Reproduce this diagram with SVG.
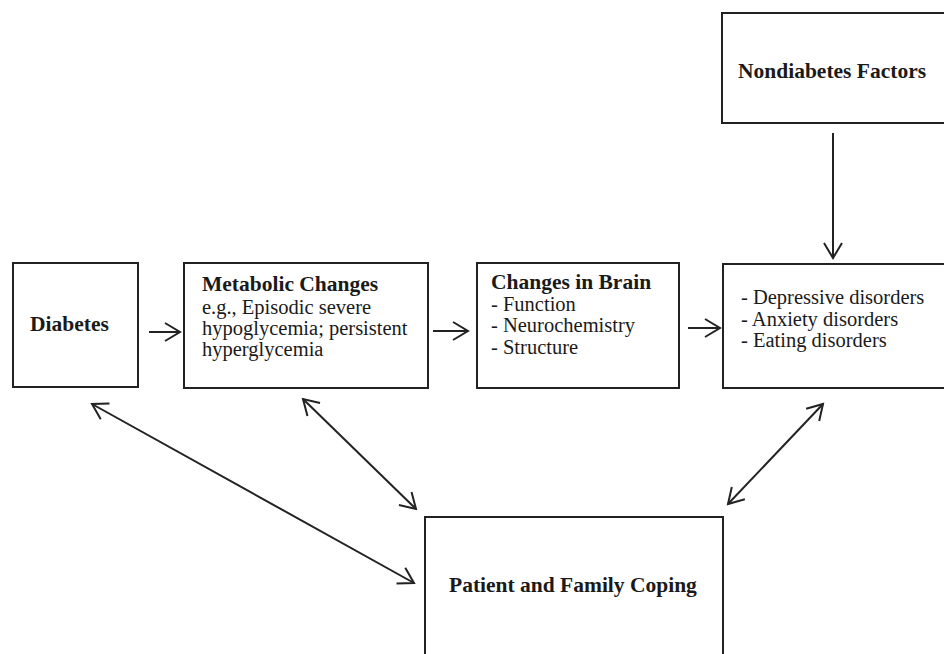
<svg xmlns="http://www.w3.org/2000/svg" width="944" height="654" viewBox="0 0 944 654">
  <style>
    .box { fill: #fff; stroke: #222; stroke-width: 2; }
    .b { font-family: "Liberation Serif", "Times New Roman", serif; font-weight: bold; font-size: 21.5px; fill: #1a1a1a; }
    .r { font-family: "Liberation Serif", "Times New Roman", serif; font-size: 20.5px; fill: #1a1a1a; }
    .link { fill: none; stroke: #222; stroke-width: 2; }
  </style>
  <defs>
    <marker id="head" markerUnits="userSpaceOnUse" markerWidth="40" markerHeight="40" refX="0" refY="0" viewBox="-20 -20 40 40" orient="auto-start-reverse" overflow="visible">
      <path d="M-15,-9 L0,0 L-15,9" fill="none" stroke="#222" stroke-width="2" stroke-linejoin="miter"/>
    </marker>
  </defs>
  <rect width="944" height="654" fill="#fff"/>

  <g id="nondiabetes">
    <rect class="box" x="722" y="13" width="240" height="110"/>
    <text class="b" x="738" y="78">Nondiabetes Factors</text>
  </g>

  <g id="diabetes">
    <rect class="box" x="13" y="263" width="125" height="124"/>
    <text class="b" x="30" y="331">Diabetes</text>
  </g>

  <g id="metabolic">
    <rect class="box" x="184" y="263" width="244" height="125"/>
    <text class="b" x="202" y="291">Metabolic Changes</text>
    <text class="r" x="202" y="314">e.g., Episodic severe</text>
    <text class="r" x="202" y="335">hypoglycemia; persistent</text>
    <text class="r" x="202" y="356">hyperglycemia</text>
  </g>

  <g id="brain">
    <rect class="box" x="477" y="263" width="202" height="125"/>
    <text class="b" x="491" y="289">Changes in Brain</text>
    <text class="r" x="491" y="311">- Function</text>
    <text class="r" x="491" y="332">- Neurochemistry</text>
    <text class="r" x="491" y="354">- Structure</text>
  </g>

  <g id="disorders">
    <rect class="box" x="723" y="264" width="240" height="124"/>
    <text class="r" x="741" y="304">- Depressive disorders</text>
    <text class="r" x="741" y="326">- Anxiety disorders</text>
    <text class="r" x="741" y="347">- Eating disorders</text>
  </g>

  <g id="coping">
    <rect class="box" x="425" y="517" width="298" height="150"/>
    <text class="b" x="449" y="592">Patient and Family Coping</text>
  </g>

  <g id="connectors">
    <line class="link" x1="149" y1="332" x2="180" y2="332" marker-end="url(#head)"/>
    <line class="link" x1="433" y1="331" x2="468" y2="331" marker-end="url(#head)"/>
    <line class="link" x1="688" y1="328" x2="720" y2="328" marker-end="url(#head)"/>
    <line class="link" x1="833" y1="133" x2="833" y2="258" marker-end="url(#head)"/>
    <line class="link" x1="92" y1="404" x2="414" y2="583" marker-start="url(#head)" marker-end="url(#head)"/>
    <line class="link" x1="303" y1="399" x2="416" y2="509" marker-start="url(#head)" marker-end="url(#head)"/>
    <line class="link" x1="823" y1="404" x2="728" y2="504" marker-start="url(#head)" marker-end="url(#head)"/>
  </g>
</svg>
